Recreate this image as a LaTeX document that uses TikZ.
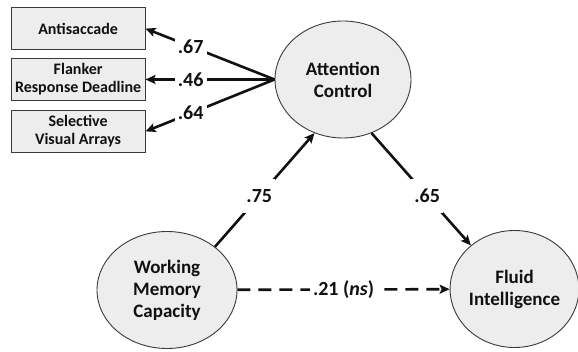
\documentclass[tikz,border=0pt]{standalone}
\usepackage{fontspec}
\setmainfont{Carlito}
\usepackage{tikz}
\usetikzlibrary{arrows.meta,positioning,shapes.geometric}
\definecolor{boxgray}{HTML}{EDEDED}
\definecolor{edgegray}{HTML}{3A3A3A}
\definecolor{inkblack}{HTML}{111111}
\tikzset{
  taskbox/.style={
    rectangle, draw=edgegray, fill=boxgray, line width=0.9pt,
    minimum width=134pt, minimum height=42pt,
    font=\fontsize{16}{18}\selectfont\bfseries, text=inkblack,
    align=center, inner sep=2pt
  },
  latent/.style={
    ellipse, draw=edgegray, fill=boxgray, line width=0.9pt,
    minimum width=#1, minimum height=117pt,
    font=\fontsize{19}{22}\selectfont\bfseries, text=inkblack,
    align=center, inner sep=0pt
  },
  latent/.default=136pt,
  pathline/.style={
    -{Stealth[length=10pt,width=9pt,inset=2pt]}, line width=2.6pt, color=#1
  },
  pathline/.default=inkblack,
  numlab/.style={
    fill=white, inner xsep=3pt, inner ysep=0pt, minimum height=34pt,
    font=\fontsize{20}{24}\selectfont\bfseries, text=inkblack
  },
}

\begin{document}
\begin{tikzpicture}[node distance=8pt]
  \useasboundingbox (0,0) rectangle (578pt,-352pt);

  % ── Latent factors ──────────
  \node[latent] (att) at (343pt,-79.5pt) {Attention\\Control};
  \node[latent=140pt, on grid, below left=210.5pt and 176pt of att] (wmc)
    {Working\\Memory\\Capacity};
  \node[latent=125pt, on grid, below right=209.5pt and 171.5pt of att] (gf)
    {Fluid\\Intelligence};

  % ── Indicator tasks ─────────
  \node[taskbox, left=129pt of att] (flank) {Flanker\\Response Deadline};
  \node[taskbox, above=of flank] (anti) {Antisaccade};
  \node[taskbox, below=9pt of flank] (selva) {Selective\\Visual Arrays};

  % ── Loadings ────────────────
  \draw[pathline] (att.west) -- (anti.east) node[numlab, pos=0.65] {.67};
  \draw[pathline] (att.west) -- (flank.east) node[numlab, pos=0.65] {.46};
  \draw[pathline] (att.west) -- (selva.east) node[numlab, pos=0.65] {.64};

  % ── Structural paths ────────
  \draw[pathline] (wmc.42) -- (att.-118) node[numlab, pos=0.445] {.75};
  \draw[pathline] (att.-62) -- (gf.135) node[numlab, pos=0.56] {.65};
  \draw[pathline, dashed, dash pattern=on 13pt off 8pt] (wmc) -- (gf)
    node[numlab, midway] {.21 (\textit{ns})};
\end{tikzpicture}
\end{document}
